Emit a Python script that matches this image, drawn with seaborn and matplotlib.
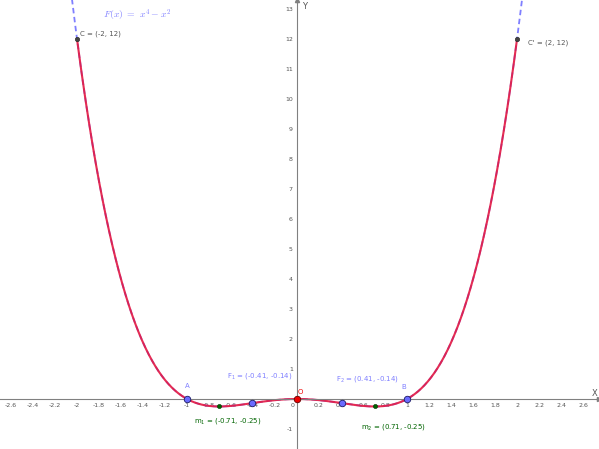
import numpy as np
import matplotlib
matplotlib.use("Agg")
import matplotlib.pyplot as plt
import matplotlib.transforms as mtransforms
import seaborn as sns

# function shown in the chart: F(x) = x^4 - x^2
def F(x):
    return x**4 - x**2

x_full = np.linspace(-2.75, 2.75, 600)
x_part = np.linspace(-2, 2, 400)

# labelled points
blue_names = ["A", "B", "F1", "F2"]
blue_x = [-1, 1, -0.41, 0.41]
blue_y = [0, 0, -0.14, -0.14]
min_x = [-0.71, 0.71]
min_y = [-0.25, -0.25]
end_x = [-2, 2]
end_y = [12, 12]
origin_x = [0]
origin_y = [0]

x_ticks = [round(v, 1) for v in np.arange(-2.6, 2.61, 0.2)]
y_ticks = [-1, 1, 2, 3, 4, 5, 6, 7, 8, 9, 10, 11, 12, 13]

sns.set_style("white")
plt.rcParams["font.family"] = ["DejaVu Sans"]

fig = plt.figure(figsize=(5.99, 4.49), dpi=100)
ax = fig.add_axes([0, 0, 1, 1])
ax.set_xlim(-2.70, 2.745)
ax.set_ylim(-1.667, 13.3)

axis_col = "#808080"
for s in ["top", "right"]:
    ax.spines[s].set_visible(False)
ax.spines["left"].set_position(("data", 0))
ax.spines["bottom"].set_position(("data", 0))
ax.spines["left"].set_color(axis_col)
ax.spines["bottom"].set_color(axis_col)
ax.spines["left"].set_linewidth(0.8)
ax.spines["bottom"].set_linewidth(0.8)
ax.set_xticks(x_ticks)
ax.set_xticklabels(["0" if v == 0 else f"{v:g}" for v in x_ticks])
ax.set_yticks(y_ticks)
ax.set_yticklabels([str(v) for v in y_ticks])
ax.tick_params(axis="both", direction="inout", length=3, width=0.6,
               color=axis_col, labelsize=4.5, labelcolor="#555555", pad=1.5)
ax.patch.set_visible(False)

# move the "0" tick label a bit to the left of the y axis
for lbl in ax.get_xticklabels():
    if lbl.get_text() == "0":
        lbl.set_transform(lbl.get_transform() +
                          mtransforms.ScaledTranslation(-4 / 100, 0, fig.dpi_scale_trans))

# arrow heads
ax.plot(1, 0, ">", color=axis_col, ms=3, transform=ax.get_yaxis_transform(), clip_on=False)
ax.plot(0, 1, "^", color=axis_col, ms=3, transform=ax.get_xaxis_transform(), clip_on=False)
ax.text(2.68, 0.17, "X", fontsize=6, color="#555555", va="center")
ax.text(0.05, 13.07, "Y", fontsize=6, color="#555555", va="center")

# curves
sns.lineplot(x=x_full, y=F(x_full), ax=ax, color="#7f7fff", lw=1.3,
             linestyle=(0, (3, 2)), sort=False, estimator=None)
sns.lineplot(x=x_part, y=F(x_part), ax=ax, color="#e31b45", lw=1.5,
             alpha=0.92, sort=False, estimator=None)

# points
sns.scatterplot(x=blue_x, y=blue_y, ax=ax, color="#6a6aff", edgecolor="#1a1a66",
                linewidth=0.6, s=22, zorder=5)
sns.scatterplot(x=min_x, y=min_y, ax=ax, color="#006400", edgecolor="#003300",
                linewidth=0.4, s=9, zorder=5)
sns.scatterplot(x=end_x, y=end_y, ax=ax, color="#444444", edgecolor="#222222",
                linewidth=0.4, s=10, zorder=5)
sns.scatterplot(x=origin_x, y=origin_y, ax=ax, color="#ee0000", edgecolor="#660000",
                linewidth=0.6, s=22, zorder=6)

lab_blue = "#7f7fff"
fs = 5.0
ax.text(-1.764, 12.78, r"$F(x)\ =\ x^4 - x^2$", color="#8080ff", fontsize=7,
        va="center", math_fontfamily="cm")
ax.text(-1.973, 12.17, "C = (-2, 12)", color="#555555", fontsize=fs, va="center")
ax.text(2.10, 11.87, "C' = (2, 12)", color="#555555", fontsize=fs, va="center")
ax.text(-1.0, 0.42, "A", color=lab_blue, fontsize=fs, va="center", ha="center")
ax.text(0.973, 0.39, "B", color=lab_blue, fontsize=fs, va="center", ha="center")
ax.text(-0.636, 0.77, r"F$_1$ = (-0.41, -0.14)", color=lab_blue, fontsize=fs, va="center")
ax.text(0.355, 0.67, r"F$_2$ = (0.41, -0.14)", color=lab_blue, fontsize=fs, va="center")
ax.text(0.01, 0.24, "O", color="#ee0000", fontsize=fs, va="center")
ax.text(-0.936, -0.73, r"m$_1$ = (-0.71, -0.25)", color="#006400", fontsize=fs, va="center")
ax.text(0.58, -0.93, r"m$_2$ = (0.71, -0.25)", color="#006400", fontsize=fs, va="center")

fig.savefig("out.png", dpi=100)
